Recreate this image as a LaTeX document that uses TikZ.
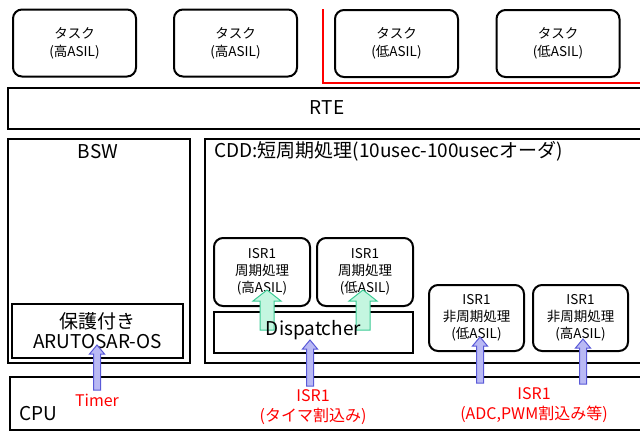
\documentclass[tikz,border=0pt]{standalone}
\usepackage{fontspec}
\setmainfont{Noto Sans CJK JP}
\definecolor{arrblue}{HTML}{B9B9F4}
\definecolor{arrblueline}{HTML}{5A5AD8}
\definecolor{arrgreen}{HTML}{C4F6E0}
\definecolor{arrgreenline}{HTML}{3CCB95}
\newcommand{\blockup}[7]{%
  % #1 x, #2 bottom y, #3 top y, #4 half shaft, #5 half head, #6 head length, #7 style
  \draw[#7] (#1-#4,#2) -- (#1-#4,#3+#6) -- (#1-#5,#3+#6) -- (#1,#3) -- (#1+#5,#3+#6) -- (#1+#4,#3+#6) -- (#1+#4,#2) -- cycle;}
\begin{document}
\begin{tikzpicture}[x=1pt,y=-1pt,
  task/.style={draw, line width=2pt, rounded corners=9pt, align=center, inner sep=0pt,
    minimum width=123pt, minimum height=67pt, font=\fontsize{13.5}{18}\selectfont},
  isrbox/.style={draw, line width=2pt, rounded corners=9pt, align=center, inner sep=0pt,
    minimum width=96pt, font=\fontsize{13.5}{17}\selectfont},
  layer/.style={draw, line width=2.4pt, inner sep=0pt},
  big/.style={font=\fontsize{19}{21}\selectfont},
  redlbl/.style={text=red, align=center, font=\fontsize{16}{20}\selectfont},
  bluearr/.style={fill=arrblue, draw=arrblueline, line width=1pt},
  greenarr/.style={fill=arrgreen, draw=arrgreenline, line width=1pt}]
\useasboundingbox (0,0) rectangle (640,432);

% tasks
\node[task] (t1) at (74.5,43) {タスク\\(高ASIL)};
\node[task] (t2) at (235.5,43) {タスク\\(高ASIL)};
\node[task] (t3) at (396.5,43.5) {タスク\\(低ASIL)};
\node[task] (t4) at (558,43.5) {タスク\\(低ASIL)};
\coordinate (r1) at (323,9);
\coordinate (r2) at (323,83);
\coordinate (r3) at (645,83);
\draw[red, line width=2.4pt] (r1) -- (r2) -- (r3);

% RTE
\node[layer, minimum width=637pt, minimum height=41pt] (rte) at (326.5,108.5) {};
\node[big] (rtel) at (327,108) {RTE};

% BSW
\node[layer, minimum width=182pt, minimum height=224pt] (bsw) at (99,251) {};
\node[big] (bswl) at (98,152) {BSW};
\node[layer, minimum width=171pt, minimum height=54pt, align=center, font=\fontsize{19}{20}\selectfont] (os) at (97.5,331) {保護付き\\ARUTOSAR-OS};

% CDD
\node[layer, minimum width=440pt, minimum height=224pt] (cdd) at (425,251) {};
\node[big, anchor=west, inner sep=0pt] (cddl) at (214,151) {CDD:短周期処理(10usec-100usecオーダ)};

\node[isrbox, minimum height=68pt] (ia) at (262,272) {ISR1\\周期処理\\(高ASIL)};
\node[isrbox, minimum height=68pt] (ib) at (365,272) {ISR1\\周期処理\\(低ASIL)};
\node[layer, minimum width=199pt, minimum height=41pt] (disp) at (313.5,332.5) {};
\node[isrbox, minimum width=95pt, minimum height=66pt] (ic) at (476.5,318) {ISR1\\非周期処理\\(低ASIL)};
\node[isrbox, minimum width=95pt, minimum height=66pt] (id) at (580.5,318) {ISR1\\非周期処理\\(高ASIL)};

% CPU
\node[layer, minimum width=635pt, minimum height=53pt] (cpu) at (327.5,403.5) {};
\node[big, anchor=west, inner sep=0pt] (cpul) at (19,414) {CPU};

% red labels
\node[redlbl] (timer) at (97,400) {Timer};
\node[redlbl] (isrt) at (313,407) {ISR1\\(タイマ割込み)};
\node[redlbl] (isra) at (534,405) {ISR1\\(ADC,PWM割込み等)};

% green arrows behind the Dispatcher label
\blockup{267}{330}{290}{7}{14}{11}{greenarr}
\blockup{363}{330}{290}{7}{14}{11}{greenarr}
\node[big] (displ) at (313.5,330) {Dispatcher};

% blue arrows
\blockup{97}{390}{345}{3.5}{7.5}{9}{bluearr}
\blockup{310}{386}{340}{3.5}{7.5}{9}{bluearr}
\blockup{480}{383}{337}{3.5}{7.5}{9}{bluearr}
\blockup{583}{384}{339}{3.5}{7.5}{9}{bluearr}
\end{tikzpicture}
\end{document}
